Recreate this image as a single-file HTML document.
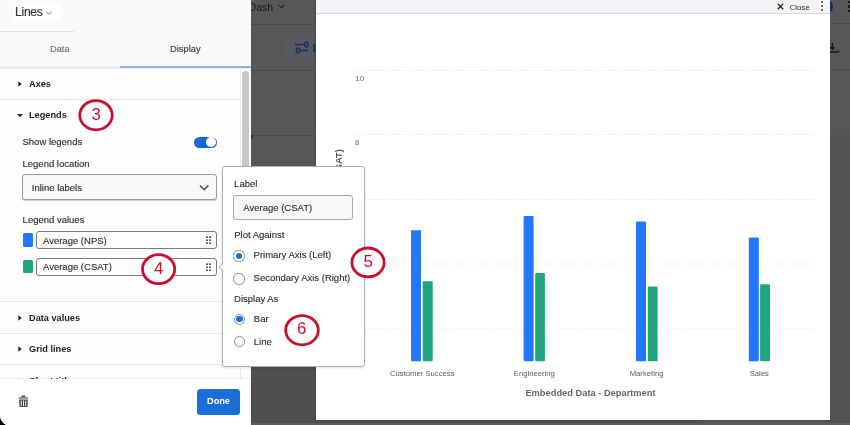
<!DOCTYPE html>
<html><head><meta charset="utf-8">
<style>
*{margin:0;padding:0;box-sizing:border-box}
html,body{width:850px;height:425px;overflow:hidden;background:#000}
#wrap{position:absolute;left:0;top:0;width:850px;height:425px;overflow:hidden;filter:blur(0.35px)}
body{position:relative;font-family:"Liberation Sans",Arial,sans-serif;color:#333}
.a{position:absolute}
.t{position:absolute;white-space:nowrap;line-height:normal}
.r{font-size:9.5px;color:#2b2b2b;-webkit-text-stroke-width:0.12px}
.b{font-size:9.2px;font-weight:bold;color:#222}
.hl{position:absolute;height:1px}
</style></head><body>
<div id="wrap">

<!-- dark backdrop -->
<div class="a" style="left:0;top:0;width:850px;height:425px;background:#575757"></div>
<div class="a" style="left:0;top:300px;width:850px;height:125px;background:#4f4f4f"></div>
<div class="a" style="left:700px;top:135.3px;width:150px;height:290px;background:#525252"></div>
<div class="a" style="left:251px;top:134.6px;width:64px;height:1px;background:#4c4c4c"></div>
<div class="a" style="left:250.6px;top:135px;width:1.6px;height:4px;background:#1b3560;transform:skewX(-15deg)"></div>
<svg class="a" style="left:251px;top:162px" width="64" height="2"><line x1="0" y1="1" x2="64" y2="1" stroke="#444" stroke-width="1" stroke-dasharray="1.4 1.8"/></svg>
<div class="a" style="left:0;top:423.3px;width:850px;height:3px;background:#5d5d5d"></div>

<!-- left dark strip content -->
<div class="t" style="left:248.6px;top:1.3px;font-size:10.5px;color:#1a1a1a">Dash</div>
<svg class="a" style="left:278.3px;top:4.2px" width="8" height="6" viewBox="0 0 8 6"><path d="M0.8 0.8 L3.6 3.9 L6.4 0.8" fill="none" stroke="#222" stroke-width="1.1"/></svg>
<div class="a" style="left:251px;top:23.5px;width:64px;height:1px;background:#4a4a4a"></div>
<div class="a" style="left:282.5px;top:35.5px;width:40px;height:24px;border-radius:3px;background:#565a60"></div>
<svg class="a" style="left:294px;top:41px" width="16" height="13" viewBox="0 0 16 13">
 <g stroke="#17345f" stroke-width="1.6" fill="none">
  <line x1="1" y1="3.5" x2="11" y2="3.5"/><rect x="11" y="1" width="3" height="5" rx="1.5"/>
  <line x1="5" y1="9.5" x2="14" y2="9.5"/><rect x="2.5" y="7" width="3" height="5" rx="1.5"/>
 </g></svg>
<div class="a" style="left:313px;top:44px;width:2px;height:8px;background:#17345f"></div>
<div class="a" style="left:251px;top:70px;width:64px;height:1px;background:#4c4c4c"></div>

<!-- right dark strip content -->
<div class="a" style="left:820px;top:0.2px;width:12.6px;height:12.6px;border-radius:50%;background:#0f3062"></div>
<div class="a" style="left:830px;top:23px;width:20px;height:1px;background:#4a4a4a"></div>
<div class="a" style="left:830px;top:69px;width:20px;height:1px;background:#4c4c4c"></div>
<svg class="a" style="left:828px;top:42px" width="13" height="12" viewBox="0 0 13 12"><g stroke="#161616" stroke-width="1.4" fill="none"><path d="M4.4 1 V7.2 M2.2 5 L4.4 7.2 L6.6 5"/><path d="M0 10 H9.6 Q10.8 10 10.8 8.4"/></g></svg>
<div class="a" style="left:848px;top:0.8px;width:2.6px;height:2.6px;border-radius:50%;background:#111"></div>
<div class="a" style="left:848px;top:5.3px;width:2.6px;height:2.6px;border-radius:50%;background:#111"></div>
<div class="a" style="left:848px;top:9.9px;width:2.6px;height:2.6px;border-radius:50%;background:#111"></div>

<!-- chart modal -->
<div class="a" style="left:315.5px;top:0;width:514.2px;height:419.7px;background:#fff;box-shadow:-1px 0 1px rgba(0,0,0,.15)"></div>
<div class="a" style="left:315.5px;top:0;width:514.2px;height:14.2px;background:#f3f3f8;border-bottom:1px solid #d5d5d7"></div>
<svg class="a" style="left:777px;top:3px" width="7" height="7" viewBox="0 0 7 7"><path d="M0.8 0.8 L6.2 6.2 M6.2 0.8 L0.8 6.2" stroke="#2a2a2a" stroke-width="1.3"/></svg>
<div class="t" style="left:789.6px;top:2.9px;font-size:7.9px;color:#2e2e2e">Close</div>
<div class="a" style="left:821.3px;top:0.9px;width:2.1px;height:2.1px;background:#444;border-radius:50%"></div>
<div class="a" style="left:821.3px;top:5.3px;width:2.1px;height:2.1px;background:#444;border-radius:50%"></div>
<div class="a" style="left:821.3px;top:9.3px;width:2.1px;height:2.1px;background:#444;border-radius:50%"></div>

<!-- chart grid -->
<svg class="a" style="left:0;top:0" width="850" height="425">
 <g stroke="#e3e3e3" stroke-width="1" stroke-dasharray="1.2 1.85">
  <line x1="355.5" y1="70.5" x2="816" y2="70.5"/>
  <line x1="355.5" y1="134.5" x2="816" y2="134.5"/>
  <line x1="355.5" y1="199.5" x2="816" y2="199.5"/>
  <line x1="355.5" y1="264" x2="816" y2="264"/>
  <line x1="355.5" y1="329" x2="816" y2="329"/>
 </g>
 <g fill="#2178fa">
  <rect x="411" y="230.2" width="10" height="131" rx="1"/>
  <rect x="523.6" y="216" width="10" height="145.3" rx="1"/>
  <rect x="636" y="221.6" width="10" height="139.7" rx="1"/>
  <rect x="748.8" y="237.6" width="10" height="123.7" rx="1"/>
 </g>
 <g fill="#1fa580">
  <rect x="422.7" y="281.3" width="10" height="80" rx="1"/>
  <rect x="535.2" y="272.9" width="9.7" height="88.4" rx="1"/>
  <rect x="647.8" y="286.6" width="9.8" height="74.7" rx="1"/>
  <rect x="760.1" y="284.2" width="9.9" height="77.1" rx="1"/>
 </g>
</svg>
<div class="t" style="left:355.3px;top:73.7px;font-size:8px;color:#707070">10</div>
<div class="t" style="left:355.1px;top:137.6px;font-size:8px;color:#707070">8</div>
<div class="t" style="left:390px;top:368.7px;font-size:7.7px;color:#5a5a5a">Customer Success</div>
<div class="t" style="left:513.8px;top:368.7px;font-size:7.7px;color:#5a5a5a">Engineering</div>
<div class="t" style="left:629.7px;top:368.7px;font-size:7.7px;color:#5a5a5a">Marketing</div>
<div class="t" style="left:749.7px;top:368.7px;font-size:7.7px;color:#5a5a5a">Sales</div>
<div class="t" style="left:525.4px;top:388px;font-size:9.3px;font-weight:bold;color:#666">Embedded Data - Department</div>
<div class="t" style="left:342.5px;top:151px;font-size:9.3px;font-weight:bold;color:#555;transform-origin:0 0;transform:rotate(-90deg) translate(-68px,-9px)">Average (CSAT)</div>

<!-- left panel -->
<div class="a" style="left:0;top:400px;width:30px;height:25px;background:#000"></div>
<div class="a" style="left:0;top:0;width:251px;height:425.5px;background:#fafafa;border-bottom-left-radius:11px;overflow:hidden" id="panel">
 <div class="a" style="left:14px;top:4px;width:46px;height:17px;background:#fff;border-radius:2px"></div>
 <div class="t" style="left:15px;top:5.1px;font-size:12.2px;letter-spacing:-0.3px;color:#383838;-webkit-text-stroke-width:0.15px">Lines</div>
 <svg class="a" style="left:45px;top:10px" width="8" height="6" viewBox="0 0 8 6"><path d="M1 1.5 L3.9 4.4 L6.8 1.5" fill="none" stroke="#666" stroke-width="0.9"/></svg>
 <div class="a" style="left:0;top:30.5px;width:73.5px;height:1px;background:#e2e2e2"></div>
 <div class="t r" style="left:49.9px;top:43.3px;color:#707070;font-size:9.4px">Data</div>
 <div class="t r" style="left:169.9px;top:43.4px;color:#3a3a3a;font-size:9.4px">Display</div>
 <div class="a" style="left:0;top:66px;width:251px;height:2.5px;background:#ececec"></div>
 <div class="a" style="left:120px;top:66px;width:131px;height:2px;background:#8ab3e6"></div>
 <!-- scroll body -->
 <div class="a" style="left:0;top:68.5px;width:251px;height:310px;background:#fdfdfd"></div>
 <div class="a" style="left:239.5px;top:68.5px;width:11.5px;height:310px;background:#fcfcfc;border-left:1px solid #ececec"></div>
 <div class="a" style="left:242px;top:70.5px;width:6.5px;height:160px;background:#c8c8c8;border-radius:3.5px"></div>

 <!-- Axes -->
 <svg class="a" style="left:17px;top:80px" width="7" height="8" viewBox="0 0 7 8"><path d="M1.3 1.3 L4.8 4 L1.3 6.7Z" fill="#222"/></svg>
 <div class="t b" style="left:29px;top:79px">Axes</div>
 <div class="a" style="left:0;top:99px;width:239.5px;height:1px;background:#e6e6e6"></div>
 <!-- Legends -->
 <svg class="a" style="left:16px;top:112px" width="8" height="7" viewBox="0 0 8 7"><path d="M1 2 L7 2 L4 5.2Z" fill="#222"/></svg>
 <div class="t b" style="left:29px;top:109.6px">Legends</div>
 <div class="t r" style="left:22.5px;top:136.0px">Show legends</div>
 <div class="a" style="left:193.8px;top:136.5px;width:23.4px;height:11px;border-radius:6px;background:#1868d4"></div>
 <div class="a" style="left:206.4px;top:137.3px;width:9.6px;height:9.6px;border-radius:50%;background:#fff"></div>
 <div class="t r" style="left:22.5px;top:157.9px">Legend location</div>
 <div class="a" style="left:22px;top:174.4px;width:195px;height:25.2px;border:1px solid #9a9a9a;border-radius:3px;background:#f8f8f8;box-shadow:0 1px 0 #d0d0d0"></div>
 <div class="t r" style="left:31.8px;top:182.2px">Inline labels</div>
 <svg class="a" style="left:199px;top:184px" width="11" height="8" viewBox="0 0 11 8"><path d="M1 1.6 L5.2 5.8 L9.4 1.6" fill="none" stroke="#444" stroke-width="1.4"/></svg>
 <div class="t r" style="left:22.6px;top:214.2px">Legend values</div>
 <div class="a" style="left:22.5px;top:233.4px;width:10.6px;height:13.6px;border-radius:1.5px;background:#2178fa"></div>
 <div class="a" style="left:36px;top:231.2px;width:181px;height:18.3px;border:1px solid #7a7a7a;border-radius:3px;background:#fdfdfd"></div>
 <div class="t r" style="left:43px;top:235.0px">Average (NPS)</div>
 <div class="a" style="left:22.5px;top:259.8px;width:10.6px;height:13.6px;border-radius:1.5px;background:#1fa580"></div>
 <div class="a" style="left:36px;top:258.2px;width:181px;height:17.5px;border:1px solid #7a7a7a;border-radius:3px;background:#fdfdfd"></div>
 <div class="t r" style="left:43px;top:260.8px">Average (CSAT)</div>
 <!-- drag handles -->
 <svg class="a" style="left:205px;top:235px" width="7" height="10" viewBox="0 0 7 10"><g fill="#333"><rect x="1.2" y="1.4" width="1.6" height="1.6"/><rect x="4.2" y="1.4" width="1.6" height="1.6"/><rect x="1.2" y="4.4" width="1.6" height="1.6"/><rect x="4.2" y="4.4" width="1.6" height="1.6"/><rect x="1.2" y="7.4" width="1.6" height="1.6"/><rect x="4.2" y="7.4" width="1.6" height="1.6"/></g></svg>
 <svg class="a" style="left:205px;top:261.5px" width="7" height="10" viewBox="0 0 7 10"><g fill="#333"><rect x="1.2" y="1.4" width="1.6" height="1.6"/><rect x="4.2" y="1.4" width="1.6" height="1.6"/><rect x="1.2" y="4.4" width="1.6" height="1.6"/><rect x="4.2" y="4.4" width="1.6" height="1.6"/><rect x="1.2" y="7.4" width="1.6" height="1.6"/><rect x="4.2" y="7.4" width="1.6" height="1.6"/></g></svg>
 <div class="a" style="left:0;top:301px;width:239.5px;height:1px;background:#e6e6e6"></div>
 <svg class="a" style="left:17px;top:313.5px" width="7" height="8" viewBox="0 0 7 8"><path d="M1.3 1.3 L4.8 4 L1.3 6.7Z" fill="#222"/></svg>
 <div class="t b" style="left:29px;top:312.6px">Data values</div>
 <div class="a" style="left:0;top:333px;width:239.5px;height:1px;background:#e6e6e6"></div>
 <svg class="a" style="left:17px;top:344.5px" width="7" height="8" viewBox="0 0 7 8"><path d="M1.3 1.3 L4.8 4 L1.3 6.7Z" fill="#222"/></svg>
 <div class="t b" style="left:29px;top:343.6px">Grid lines</div>
 <div class="a" style="left:0;top:364px;width:239.5px;height:1px;background:#e6e6e6"></div>
 <svg class="a" style="left:17px;top:376.7px" width="7" height="8" viewBox="0 0 7 8"><path d="M1.3 1.3 L4.8 4 L1.3 6.7Z" fill="#222"/></svg>
 <div class="t b" style="left:29px;top:375.8px">Chart title</div>
 <!-- footer -->
 <div class="a" style="left:0;top:378.5px;width:251px;height:52px;background:#fff;box-shadow:0 -1px 1px rgba(0,0,0,.06)"></div>
 <svg class="a" style="left:18px;top:395px" width="11" height="13" viewBox="0 0 11 13"><rect x="3.3" y="0.6" width="4.2" height="1.9" rx="0.9" fill="#5a5a5a"/><rect x="0.7" y="2.2" width="9.4" height="1.5" rx="0.3" fill="#7a7a7a"/><path d="M1.1 4.4 H9.9 L9.4 12.1 H1.6Z" fill="#4a4a4a"/><g fill="#e6e6e6"><rect x="2.8" y="5.4" width="1" height="5.7"/><rect x="5" y="5.4" width="1" height="5.7"/><rect x="7.2" y="5.4" width="1" height="5.7"/></g></svg>
 <div class="a" style="left:197px;top:389px;width:43px;height:26px;border-radius:3.5px;background:#1a6ed6"></div>
 <div class="t" style="left:207px;top:396.3px;font-size:9.2px;font-weight:bold;color:#fff">Done</div>
</div>

<!-- popover -->
<div class="a" style="left:222.4px;top:166.4px;width:142.3px;height:200.6px;background:#fff;border:1px solid #b0b0b0;border-radius:3px;box-shadow:0 1px 3px rgba(0,0,0,.12)"></div>
<svg class="a" style="left:217px;top:260px" width="8" height="14" viewBox="0 0 8 14"><path d="M6.4 3 L1.9 6.9 L6.4 10.8" fill="#fff" stroke="#a4a4a4" stroke-width="1"/><rect x="6" y="3.4" width="2" height="7" fill="#fff"/></svg>
<div class="t r" style="left:234.1px;top:178.2px">Label</div>
<div class="a" style="left:233px;top:195px;width:120px;height:24.5px;border:1px solid #a8a8a8;border-radius:3px;background:#f8f8f8"></div>
<div class="t r" style="left:243.3px;top:201.9px">Average (CSAT)</div>
<div class="t r" style="left:234.2px;top:228.7px">Plot Against</div>
<div class="a" style="left:233.4px;top:250.4px;width:11.2px;height:11.2px;border-radius:50%;border:1px solid #8a8a8a;background:#fff"></div>
<div class="a" style="left:235.6px;top:252.6px;width:6.8px;height:6.8px;border-radius:50%;background:#1a6ed6"></div>
<div class="t r" style="left:253.6px;top:249.3px">Primary Axis (Left)</div>
<div class="a" style="left:233.4px;top:273.4px;width:11.2px;height:11.2px;border-radius:50%;border:1px solid #8a8a8a;background:#fff"></div>
<div class="t r" style="left:253.6px;top:272.0px">Secondary Axis (Right)</div>
<div class="t r" style="left:234.1px;top:292.9px">Display As</div>
<div class="a" style="left:233.7px;top:313.5px;width:11.2px;height:11.2px;border-radius:50%;border:1px solid #8a8a8a;background:#fff"></div>
<div class="a" style="left:235.9px;top:315.7px;width:6.8px;height:6.8px;border-radius:50%;background:#1a6ed6"></div>
<div class="t r" style="left:253.8px;top:312.6px">Bar</div>
<div class="a" style="left:233.7px;top:335.9px;width:11.2px;height:11.2px;border-radius:50%;border:1px solid #8a8a8a;background:#fff"></div>
<div class="t r" style="left:253.8px;top:335.7px">Line</div>

<!-- red annotation circles -->
<svg class="a" style="left:0;top:0" width="850" height="425">
 <g fill="#fff" stroke="#c8102e" stroke-width="2.8">
  <ellipse cx="96" cy="115.2" rx="16.2" ry="14.6"/>
  <ellipse cx="158.6" cy="269.1" rx="16.1" ry="14.5"/>
  <ellipse cx="368" cy="262.4" rx="16.1" ry="14.4"/>
  <ellipse cx="302" cy="330.2" rx="16.3" ry="14.6"/>
 </g>
</svg>
<div class="t" style="left:91.5px;top:104.5px;font-size:16.8px;color:#c8102e">3</div>
<div class="t" style="left:154px;top:258.5px;font-size:16.8px;color:#c8102e">4</div>
<div class="t" style="left:363.5px;top:251.5px;font-size:16.8px;color:#c8102e">5</div>
<div class="t" style="left:297px;top:319px;font-size:16.8px;color:#c8102e">6</div>

</div>
</body></html>
